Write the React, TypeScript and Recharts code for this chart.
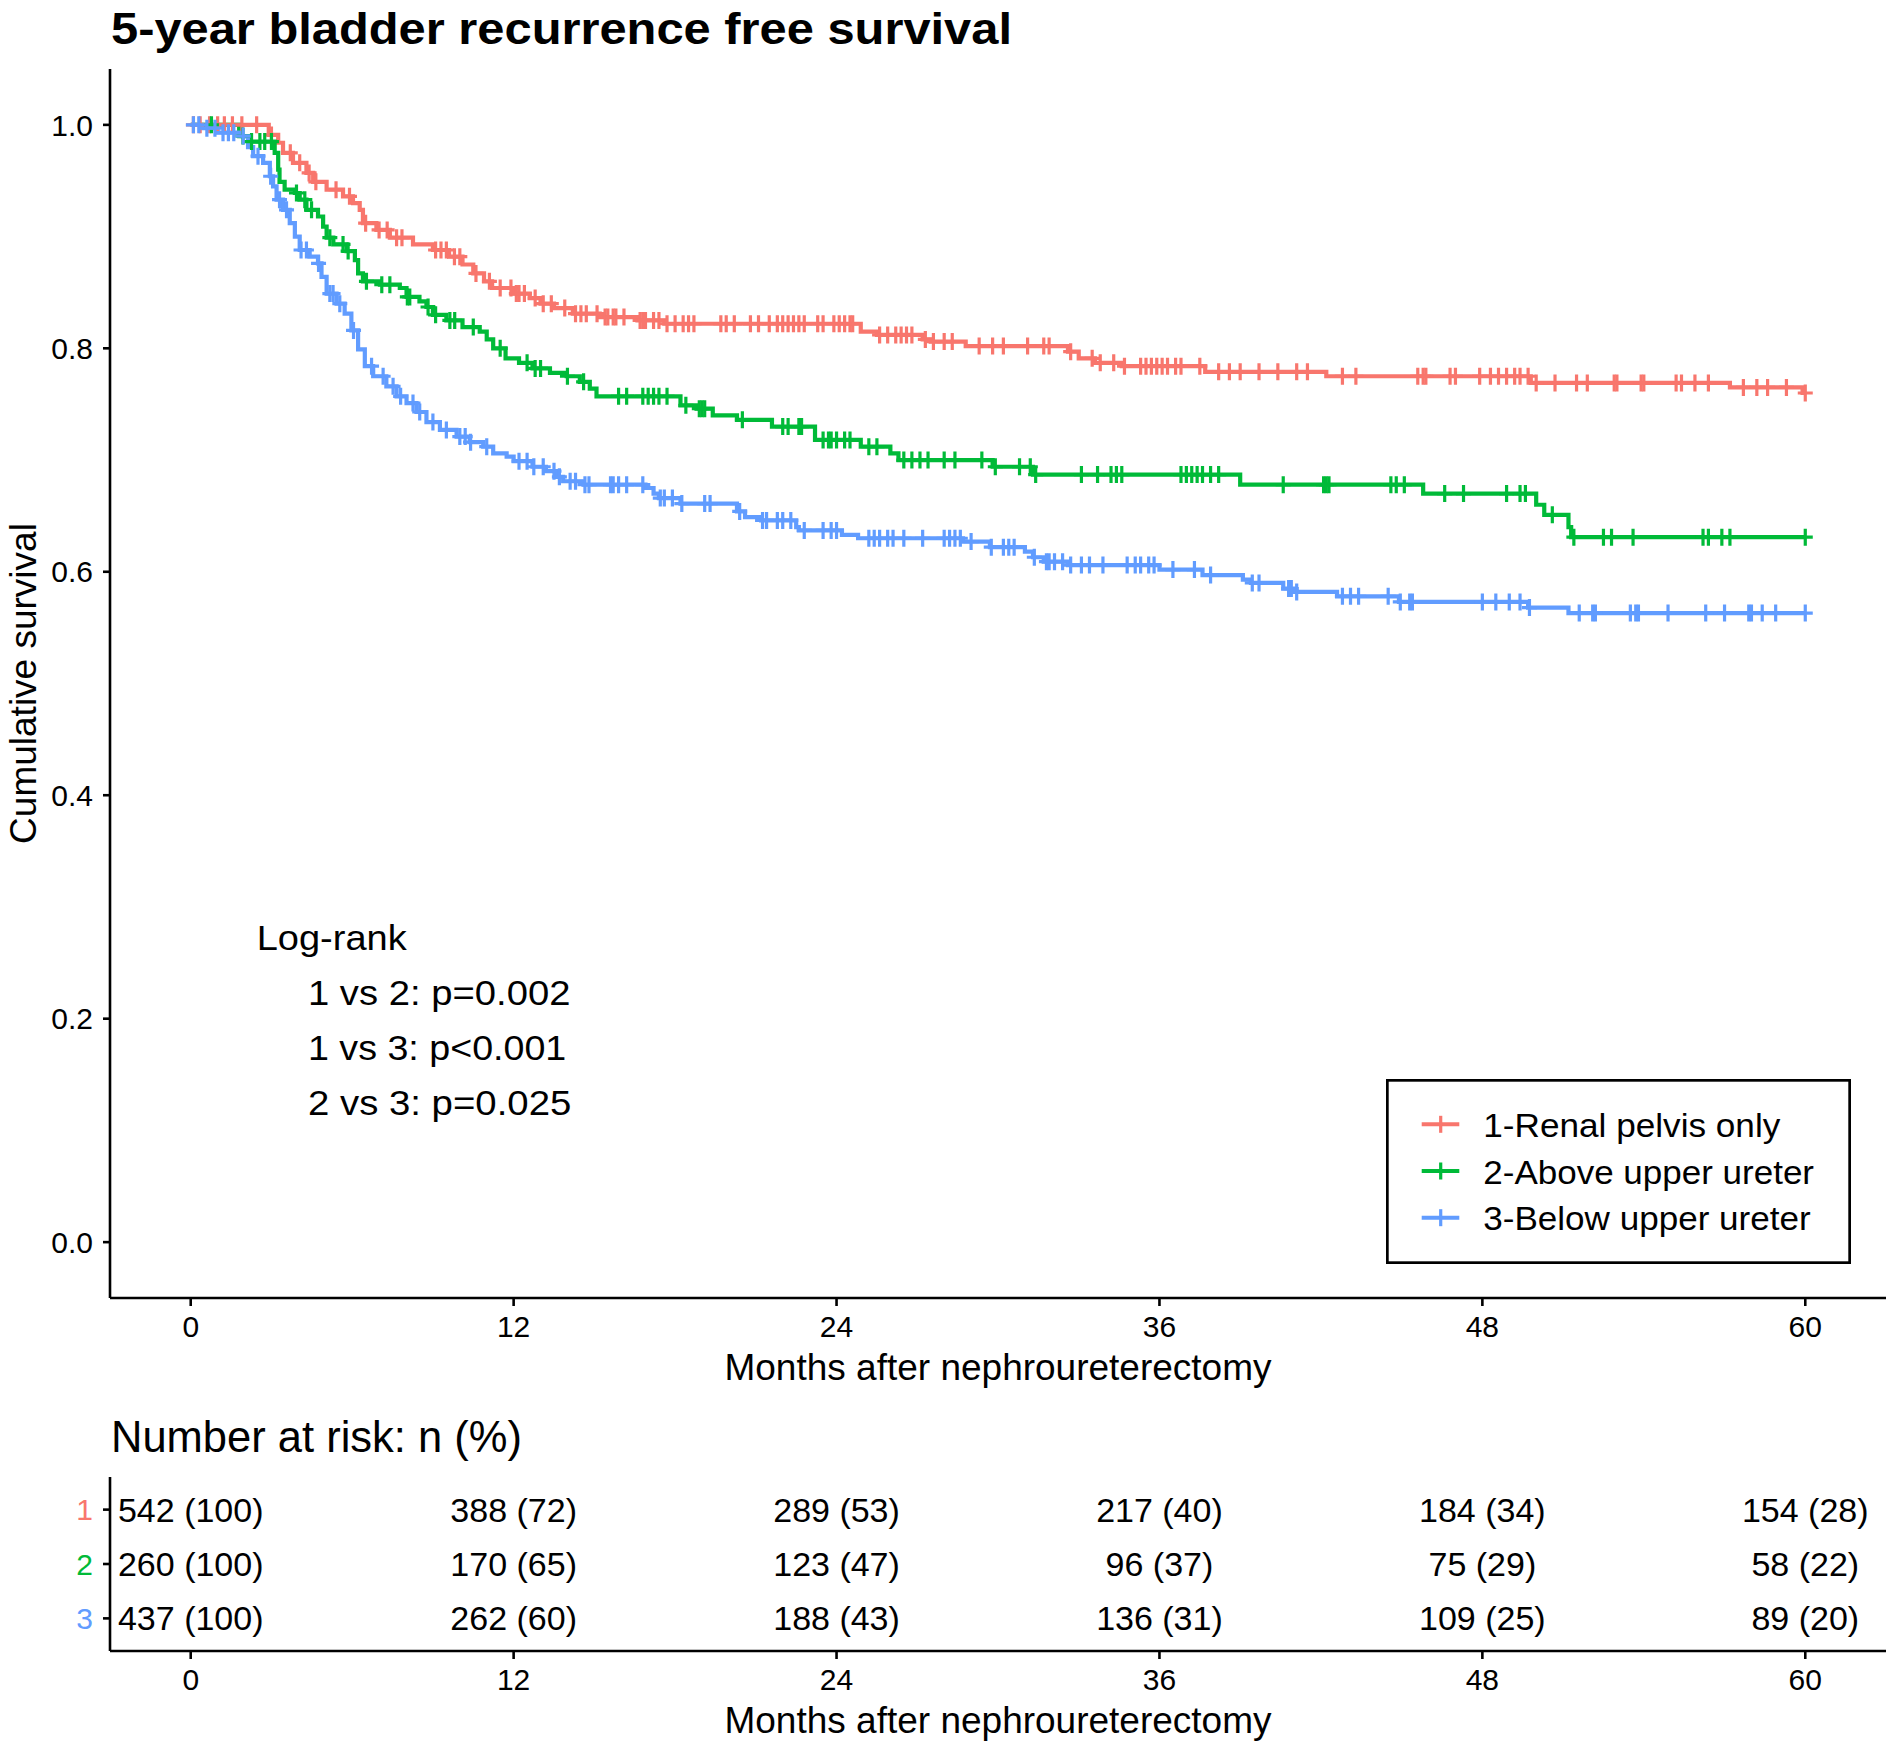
import React from 'react';
import { ComposedChart, ScatterChart, Line, Scatter, XAxis, YAxis, Legend } from 'recharts';

const RED = '#F8766D';
const GREEN = '#00BA38';
const BLUE = '#619CFF';
const FONT = '"Liberation Sans", Arial, sans-serif';

const strataNames = ['1-Renal pelvis only', '2-Above upper ureter', '3-Below upper ureter'];
const strataColors = [RED, GREEN, BLUE];
const monthTicks = [0, 12, 24, 36, 48, 60];
const survTicks = [0, 0.2, 0.4, 0.6, 0.8, 1.0];

// Kaplan-Meier steps: [month, survival]
const redSteps = [
  [0, 1], [2.9, 0.991], [3.25, 0.984], [3.43, 0.975], [3.8, 0.966], [4.3, 0.957], [4.55, 0.949],
  [5.05, 0.942], [5.66, 0.936], [6.03, 0.93], [6.28, 0.924], [6.4, 0.912], [6.9, 0.906], [7.4, 0.899],
  [8.26, 0.893], [9.0, 0.888], [9.6, 0.882], [10.1, 0.875], [10.5, 0.867], [10.9, 0.86], [11.2, 0.854],
  [12.0, 0.849], [12.6, 0.845], [13.0, 0.84], [13.5, 0.836], [14.2, 0.831], [15.2, 0.828], [16.6, 0.825],
  [17.6, 0.822], [24.9, 0.815], [25.5, 0.812], [27.2, 0.808], [27.5, 0.806], [28.8, 0.802], [32.6, 0.797],
  [33.0, 0.791], [33.6, 0.787], [34.6, 0.784], [37.7, 0.779], [42.2, 0.775], [49.8, 0.769], [57.2, 0.765],
  [59.9, 0.76], [60, 0.76],
];
const greenSteps = [
  [0, 1], [1.8, 0.99], [2.2, 0.985], [3.12, 0.975], [3.25, 0.96], [3.3, 0.949], [3.49, 0.942], [3.87, 0.939],
  [4.05, 0.933], [4.3, 0.924], [4.73, 0.918], [4.92, 0.909], [5.05, 0.899], [5.3, 0.893], [5.79, 0.887],
  [6.1, 0.879], [6.22, 0.867], [6.4, 0.86], [7.03, 0.857], [7.77, 0.854], [8.02, 0.846], [8.5, 0.842],
  [8.76, 0.837], [9.0, 0.83], [9.5, 0.825], [10.1, 0.819], [10.74, 0.815], [11.0, 0.808], [11.24, 0.8],
  [11.7, 0.791], [12.2, 0.787], [12.7, 0.782], [13.35, 0.778], [13.97, 0.775], [14.46, 0.77], [14.83, 0.764],
  [15.08, 0.757], [18.2, 0.749], [18.8, 0.746], [19.4, 0.74], [20.3, 0.736], [21.6, 0.73], [23.2, 0.718],
  [24.9, 0.712], [26.0, 0.706], [26.3, 0.7], [29.8, 0.694], [31.3, 0.687], [39.0, 0.678], [45.8, 0.67],
  [50.0, 0.66], [50.3, 0.651], [51.2, 0.64], [51.3, 0.631], [60, 0.631],
];
const blueSteps = [
  [0, 1], [0.4, 0.997], [1.0, 0.993], [1.9, 0.99], [2.13, 0.98], [2.32, 0.972], [2.69, 0.966], [2.94, 0.954],
  [3.06, 0.945], [3.19, 0.933], [3.43, 0.924], [3.68, 0.912], [3.87, 0.9], [4.05, 0.888], [4.42, 0.882],
  [4.73, 0.876], [4.86, 0.864], [5.05, 0.849], [5.42, 0.84], [5.72, 0.831], [5.97, 0.816], [6.22, 0.799],
  [6.47, 0.784], [6.78, 0.775], [7.27, 0.766], [7.65, 0.757], [8.02, 0.751], [8.39, 0.743], [8.76, 0.734],
  [9.26, 0.727], [9.88, 0.721], [10.37, 0.716], [10.87, 0.712], [11.24, 0.706], [11.74, 0.703], [12.0, 0.699],
  [12.7, 0.694], [13.2, 0.69], [13.6, 0.685], [13.84, 0.681], [14.6, 0.678], [16.9, 0.675], [17.2, 0.67],
  [17.4, 0.666], [18.2, 0.661], [20.3, 0.654], [20.6, 0.649], [21.2, 0.646], [22.5, 0.64], [22.6, 0.637],
  [24.2, 0.633], [24.8, 0.63], [28.7, 0.627], [29.7, 0.622], [31.0, 0.618], [31.3, 0.613], [31.7, 0.609],
  [32.6, 0.606], [36.0, 0.602], [37.6, 0.597], [39.1, 0.593], [39.4, 0.59], [40.6, 0.585], [41.0, 0.582],
  [42.6, 0.578], [44.9, 0.573], [49.7, 0.568], [51.2, 0.563], [60, 0.563],
];

// censoring times (months)
const redCensor = [
  0.1, 0.35, 0.7, 1.0, 1.25, 1.55, 1.9, 2.45, 3.0, 3.7, 4.05, 4.4, 4.65, 5.4, 5.9, 6.5, 7.0, 7.3, 7.65, 7.85,
  9.1, 9.3, 9.5, 9.8, 10.0, 10.6, 11.1, 11.5, 11.9, 12.1, 12.2, 12.4, 12.8, 13.1, 13.4, 13.9, 14.3, 14.5, 14.7,
  15.1, 15.4, 15.5, 15.7, 15.8, 16.1, 16.7, 16.8, 16.9, 17.2, 17.4, 17.7, 18.0, 18.3, 18.5, 18.7, 19.7, 19.9,
  20.2, 20.8, 21.1, 21.5, 21.8, 22.0, 22.2, 22.4, 22.6, 22.8, 23.3, 23.5, 23.9, 24.1, 24.3, 24.5, 24.6, 25.6,
  25.9, 26.2, 26.4, 26.6, 26.8, 27.3, 27.6, 28.0, 28.3, 29.3, 29.8, 30.2, 31.1, 31.7, 31.9, 32.7, 33.5, 33.8,
  34.3, 34.7, 35.3, 35.5, 35.7, 35.9, 36.1, 36.3, 36.6, 36.8, 37.5, 38.2, 38.6, 39.0, 39.7, 40.4, 41.1, 41.5,
  42.8, 43.3, 45.6, 45.8, 45.9, 46.8, 47.0, 47.9, 48.3, 48.6, 48.9, 49.2, 49.4, 49.7, 50.0, 50.7, 51.5, 51.9,
  52.9, 53.0, 53.9, 54.0, 55.2, 55.4, 55.9, 56.4, 57.7, 58.2, 58.6, 59.3, 60,
];
const greenCensor = [
  0.77, 1.94, 2.26, 2.57, 2.75, 3.0, 3.93, 4.24, 4.49, 5.17, 5.66, 5.85, 6.53, 7.1, 7.4, 8.05, 8.14, 8.82, 9.1,
  9.63, 9.81, 10.5, 11.5, 12.5, 12.8, 13.0, 14.0, 14.6, 15.9, 16.2, 16.8, 17.0, 17.2, 17.4, 17.7, 18.4, 18.9,
  19.0, 19.1, 20.5, 22.0, 22.2, 22.6, 22.7, 23.5, 23.7, 23.8, 24.0, 24.3, 24.5, 25.2, 25.5, 26.5, 26.8, 27.1,
  27.4, 28.0, 28.4, 29.4, 29.9, 30.8, 31.2, 31.4, 33.1, 33.7, 34.2, 34.4, 34.6, 36.8, 37.0, 37.2, 37.4, 37.6,
  37.9, 38.2, 40.6, 42.1, 42.2, 42.3, 44.6, 44.8, 45.1, 46.6, 47.3, 48.9, 49.4, 49.6, 50.6, 51.4, 52.5, 52.8,
  53.6, 56.2, 56.4, 56.9, 57.2, 60,
];
const blueCensor = [
  0.1, 0.3, 0.6, 0.9, 1.2, 1.4, 1.6, 1.95, 2.5, 2.97, 3.3, 3.56, 4.1, 4.3, 4.75, 5.17, 5.29, 5.54, 6.05, 6.72,
  7.15, 7.52, 7.8, 8.26, 8.51, 9.0, 9.5, 10.0, 10.2, 10.4, 11.0, 12.2, 12.5, 12.75, 13.1, 13.5, 13.7, 14.1,
  14.3, 14.65, 14.8, 15.6, 15.7, 15.9, 16.2, 16.8, 17.45, 17.6, 17.9, 18.25, 19.1, 19.3, 20.4, 21.25, 21.4,
  21.8, 22.0, 22.3, 22.8, 23.5, 23.8, 24.0, 25.2, 25.4, 25.6, 25.9, 26.1, 26.5, 27.2, 28.0, 28.2, 28.4, 28.6,
  29.0, 29.75, 30.2, 30.4, 30.6, 31.35, 31.8, 31.9, 32.1, 32.4, 32.7, 33.1, 33.4, 33.9, 34.8, 35.1, 35.3,
  35.6, 35.8, 36.5, 37.3, 37.9, 39.45, 39.7, 40.8, 40.9, 41.1, 42.8, 43.1, 43.4, 44.5, 44.95, 45.3, 45.4,
  48.0, 48.5, 49.0, 49.4, 49.75, 51.6, 52.1, 52.2, 53.5, 53.7, 53.8, 54.9, 56.3, 57.0, 57.9, 58.0, 58.4,
  58.9, 60,
];

// number at risk, n and %
const riskCounts = [
  [542, 388, 289, 217, 184, 154],
  [260, 170, 123, 96, 75, 58],
  [437, 262, 188, 136, 109, 89],
];
const riskPercents = [
  [100, 72, 53, 40, 34, 28],
  [100, 65, 47, 37, 29, 22],
  [100, 60, 43, 31, 25, 20],
];

const logRankLines = ['1 vs 2: p=0.002', '1 vs 3: p<0.001', '2 vs 3: p=0.025'];

function survAt(steps: number[][], t: number): number {
  let s = steps[0][1];
  for (const [m, v] of steps) {
    if (m <= t) s = v;
    else break;
  }
  return s;
}

const groups = [
  { steps: redSteps, censor: redCensor },
  { steps: greenSteps, censor: greenCensor },
  { steps: blueSteps, censor: blueCensor },
].map((g, i) => ({
  name: strataNames[i],
  color: strataColors[i],
  line: g.steps.map(([t, s]) => ({ t, s })),
  marks: g.censor.map((t) => ({ t, s: survAt(g.steps, t) })),
}));

const riskRows = riskCounts.map((counts, r) =>
  counts.map((n, j) => ({ t: monthTicks[j], row: r + 1, label: `${n} (${riskPercents[r][j]})` }))
);

const axisStroke = { stroke: '#000', strokeWidth: 2.6 };
const tickStyle = { fill: '#000', fontSize: 30 };

function plusShape(color: string) {
  return (props: any) => {
    const { cx, cy } = props;
    if (cx == null || cy == null) return null;
    return (
      <path
        d={`M${cx - 7.5},${cy}h15M${cx},${cy - 8.5}v17`}
        stroke={color}
        strokeWidth={3.2}
        fill="none"
      />
    );
  };
}

function RiskText(props: any) {
  const { cx, cy } = props;
  const label = props.payload?.label ?? props.label;
  return (
    <text x={cx} y={cy} dy="0.355em" textAnchor="middle" fontSize={34} fill="#000">
      {label}
    </text>
  );
}

function RiskTick(props: any) {
  const { x, y, payload } = props;
  return (
    <text x={x} y={y} dy="0.355em" textAnchor="end" fontSize={30} fill={strataColors[payload.value - 1]}>
      {payload.value}
    </text>
  );
}

const legendTextLengths = [297, 330.7, 327.3];

function KmLegend() {
  return (
    <svg width={465} height={185} style={{ display: 'block', fontFamily: FONT }}>
      <rect x={1.35} y={1.35} width={462.3} height={182.3} fill="#fff" stroke="#000" strokeWidth={2.7} />
      {strataNames.map((name, i) => {
        const cy = 45.3 + i * 46.7;
        return (
          <g key={name}>
            <line x1={35.7} x2={73.3} y1={cy} y2={cy} stroke={strataColors[i]} strokeWidth={4} />
            <line x1={54.7} x2={54.7} y1={cy - 8.5} y2={cy + 8.5} stroke={strataColors[i]} strokeWidth={3.2} />
            <text
              x={97.3}
              y={cy + 12.5}
              fontSize={33}
              fill="#000"
              textLength={legendTextLengths[i]}
              lengthAdjust="spacingAndGlyphs"
            >
              {name}
            </text>
          </g>
        );
      })}
    </svg>
  );
}

export default function App() {
  return (
    <div
      style={{
        position: 'absolute',
        left: 0,
        top: 0,
        width: 1890,
        height: 1750,
        background: '#fff',
        fontFamily: FONT,
      }}
    >
      <div style={{ position: 'absolute', left: 0, top: 0 }}>
        <ComposedChart width={1890} height={1400} margin={{ top: 69, right: 4, bottom: 0, left: 0 }}>
          <XAxis
            dataKey="t"
            type="number"
            domain={[-3, 63]}
            ticks={monthTicks}
            interval={0}
            height={102}
            tickSize={8}
            tickMargin={10}
            axisLine={axisStroke}
            tickLine={axisStroke}
            tick={tickStyle}
          />
          <YAxis
            dataKey="s"
            type="number"
            domain={[-0.05, 1.05]}
            ticks={survTicks}
            interval={0}
            width={110}
            tickSize={7}
            tickMargin={10}
            tickFormatter={(v: number) => v.toFixed(1)}
            axisLine={axisStroke}
            tickLine={axisStroke}
            tick={tickStyle}
          />
          {groups.map((g) => (
            <Line
              key={`line-${g.name}`}
              data={g.line}
              dataKey="s"
              type="stepAfter"
              stroke={g.color}
              strokeWidth={4.2}
              dot={false}
              activeDot={false}
              isAnimationActive={false}
            />
          ))}
          {groups.map((g) => (
            <Scatter
              key={`cens-${g.name}`}
              data={g.marks}
              dataKey="s"
              shape={plusShape(g.color)}
              isAnimationActive={false}
            />
          ))}
          <Legend
            layout="horizontal"
            verticalAlign="middle"
            align="center"
            content={() => <KmLegend />}
            wrapperStyle={{ left: 1386, top: 1079, width: 465, height: 185 }}
          />
        </ComposedChart>
      </div>

      <div style={{ position: 'absolute', left: 0, top: 1400 }}>
        <ScatterChart width={1890} height={350} margin={{ top: 77, right: 4, bottom: 0, left: 0 }}>
          <XAxis
            dataKey="t"
            type="number"
            domain={[-3, 63]}
            ticks={monthTicks}
            interval={0}
            height={99}
            tickSize={8}
            tickMargin={10}
            axisLine={axisStroke}
            tickLine={axisStroke}
            tick={tickStyle}
          />
          <YAxis
            dataKey="row"
            type="number"
            domain={[0.4, 3.6]}
            reversed
            ticks={[1, 2, 3]}
            interval={0}
            width={110}
            tickSize={7}
            tickMargin={10}
            axisLine={axisStroke}
            tickLine={axisStroke}
            tick={<RiskTick />}
          />
          {riskRows.map((rows, i) => (
            <Scatter key={`risk-${i}`} data={rows} shape={<RiskText />} isAnimationActive={false} />
          ))}
        </ScatterChart>
      </div>

      <svg
        width={1890}
        height={1750}
        style={{ position: 'absolute', left: 0, top: 0, pointerEvents: 'none', fontFamily: FONT }}
      >
        <text x={111} y={44} fontSize={45} fontWeight="bold" fill="#000" textLength={901} lengthAdjust="spacingAndGlyphs">
          5-year bladder recurrence free survival
        </text>
        <text x={36} y={683.5} fontSize={37} textAnchor="middle" fill="#000" transform="rotate(-90 36 683.5)">
          Cumulative survival
        </text>
        <text x={998} y={1380} fontSize={37} textAnchor="middle" fill="#000">
          Months after nephroureterectomy
        </text>
        <text x={256.7} y={950} fontSize={35} fill="#000" textLength={150} lengthAdjust="spacingAndGlyphs">
          Log-rank
        </text>
        {logRankLines.map((s, i) => (
          <text
            key={s}
            x={308}
            y={1005 + i * 55}
            fontSize={35}
            fill="#000"
            textLength={[262.4, 258.3, 263.3][i]}
            lengthAdjust="spacingAndGlyphs"
          >
            {s}
          </text>
        ))}
        <text x={111} y={1452} fontSize={43.5} fill="#000">
          Number at risk: n (%)
        </text>
        <text x={998} y={1733} fontSize={37} textAnchor="middle" fill="#000">
          Months after nephroureterectomy
        </text>
      </svg>
    </div>
  );
}
